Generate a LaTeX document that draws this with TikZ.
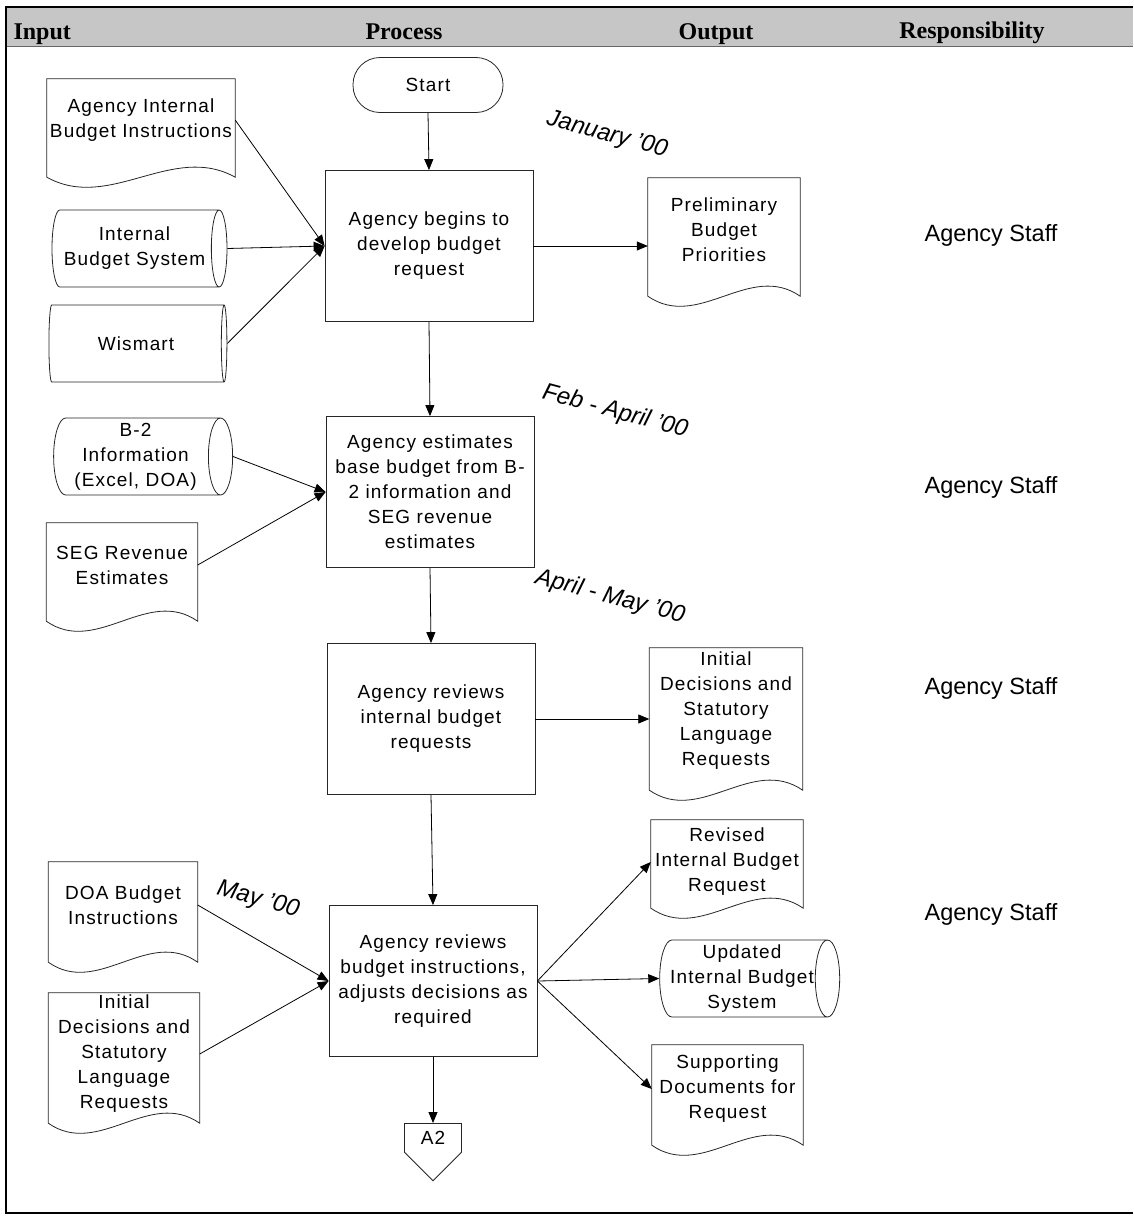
\documentclass[tikz,border=0pt]{standalone}
\usepackage{fontspec}
\setmainfont{Liberation Sans}
\newfontfamily\spacedfont{Liberation Sans}[LetterSpace=6]
\newfontfamily\headfont{Liberation Serif}
\usetikzlibrary{shapes.geometric, shapes.symbols, arrows.meta, calc}

\tikzset{
    shapeline/.style={draw=black!85, line width=0.8pt},
    boxtext/.style={align=center, font=\spacedfont\fontsize{19}{25}\selectfont},
    process/.style={rectangle, shapeline, boxtext, minimum width=208pt, minimum height=151pt},
    startnode/.style={rectangle, shapeline, boxtext, rounded corners=27pt, minimum width=150pt, minimum height=55pt},
    document/.style={rectangle, boxtext, inner sep=1pt},
    storage/.style={cylinder, shapeline, boxtext, aspect=0.35, inner sep=1pt, minimum width=77pt},
    offpage/.style={signal, signal to=south, shapeline, boxtext, minimum width=57pt, minimum height=42pt, inner sep=1pt, anchor=north},
    flow/.style={-{Triangle[length=11pt,width=9pt]}, line width=0.8pt},
    datelabel/.style={font=\itshape\fontsize{24}{28}\selectfont, rotate=-15},
    staff/.style={font=\fontsize{23.5}{28}\selectfont},
    colhead/.style={font=\headfont\bfseries\fontsize{24}{28}\selectfont, anchor=base}
}

% outline of a document node: sides run #1 below the node, then a wavy bottom
\newcommand{\docframe}[2][14]{%
    \draw[shapeline] (#2.north west) -- (#2.north east) -- ($(#2.south east)+(0,#1)$)
        .. controls ($(#2.south east)!0.333!(#2.south west)+(0,#1-35)$)
        and ($(#2.south east)!0.667!(#2.south west)+(0,#1+35)$) .. ($(#2.south west)+(0,#1)$) -- cycle;}

\begin{document}
\begin{tikzpicture}[x=1pt, y=-1pt]
\useasboundingbox (0,0) rectangle (1133,1218);

% header and frame
\fill[gray!45] (5,7) rectangle (1133,46);
\draw[line width=1.5pt] (5,7) -- (1133,7);
\draw[black!60, line width=0.8pt] (5,46) -- (1133,46);
\draw[line width=1.5pt] (6,7) -- (6,1213) -- (1133,1213);
\node[colhead, anchor=base west] (hinput) at (10,39) {Input};
\node[colhead] (hprocess) at (404,39) {Process};
\node[colhead] (houtput) at (716,39) {Output};
\node[colhead] (hresp) at (972,38) {Responsibility};

% process column
\node[startnode] (start) at (428,85) {Start};
\node[process] (b1) at (429,246) {Agency begins to\\develop budget\\request};
\node[process] (b2) at (430,492) {Agency estimates\\base budget from B-\\2 information and\\SEG revenue\\estimates};
\node[process] (b3) at (431,719) {Agency reviews\\internal budget\\requests};
\node[process] (b4) at (433,981) {Agency reviews\\budget instructions,\\adjusts decisions as\\required};
\node[offpage] (a2) at (433,1123) {A2};

% inputs
\node[document, minimum width=188pt, minimum height=82pt] (in1) at (141,120) {Agency Internal\\Budget Instructions};
\node[storage, minimum height=175pt] (cyl1) at (134.5,248.5) {Internal\\Budget System};
\node[storage, minimum height=178pt] (cyl2) at (136,343.5) {Wismart};
\node[storage, minimum height=179pt] (cyl3) at (135.5,456.5) {B-2\\Information\\(Excel, DOA)};
\node[document, minimum width=151pt, minimum height=84pt] (in3) at (122,565) {SEG Revenue\\Estimates};
\node[document, minimum width=149pt, minimum height=86pt] (in4) at (123,905) {DOA Budget\\Instructions};
\node[document, minimum width=151pt, minimum height=122pt] (in5) at (124,1054) {Initial\\Decisions and\\Statutory\\Language\\Requests};

% outputs
\node[document, minimum width=152pt, minimum height=104pt] (out1) at (724,230) {Preliminary\\Budget\\Priorities};
\node[document, minimum width=153pt, minimum height=126pt] (out3) at (726,711) {Initial\\Decisions and\\Statutory\\Language\\Requests};
\node[document, minimum width=152pt, minimum height=84pt] (out4a) at (727,862) {Revised\\Internal Budget\\Request};
\node[storage, minimum height=180pt] (cyl4) at (742,978.5) {Updated\\Internal Budget\\System};
\node[document, minimum width=151pt, minimum height=88pt] (out4c) at (727.5,1089) {Supporting\\Documents for\\Request};

\docframe[16]{in1}
\docframe{in3}
\docframe{in4}
\docframe[8]{in5}
\docframe{out1}
\docframe[16]{out3}
\docframe[4]{out4a}
\docframe[12]{out4c}

% dates
\node[datelabel] (jan) at (607,135) {January '00};
\node[datelabel] (feb) at (615,412) {Feb - April '00};
\node[datelabel] (apr) at (610,597) {April - May '00};
\node[datelabel] (may) at (258,900) {May '00};

% responsibility
\foreach \y [count=\i] in {235,487,688,914}
    \node[staff] (staff\i) at (991,\y) {Agency Staff};

% flow
\draw[flow] (start.south) -- (b1.north);
\draw[flow] (b1.south) -- (b2.north);
\draw[flow] (b2.south) -- (b3.north);
\draw[flow] (b3.south) -- (b4.north);
\draw[flow] (b4.south) -- (a2.north);
\foreach \src in {in1, cyl1, cyl2}
    \draw[flow] (\src.east) -- (b1.west);
\foreach \src in {cyl3, in3}
    \draw[flow] (\src.east) -- (b2.west);
\foreach \src in {in4, in5}
    \draw[flow] (\src.east) -- (b4.west);
\draw[flow] (b1.east) -- (b1.east -| out1.west);
\draw[flow] (b3.east) -- (b3.east -| out3.west);
\foreach \dst in {out4a, cyl4, out4c}
    \draw[flow] (b4.east) -- (\dst.west);
\end{tikzpicture}
\end{document}
